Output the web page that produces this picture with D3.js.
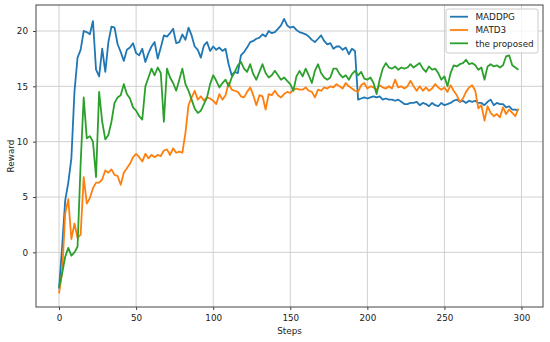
<!DOCTYPE html>
<html>
<head>
<meta charset="utf-8">
<script src="https://cdn.jsdelivr.net/npm/d3@7"></script>
<style>
    body { margin: 0; background: #fff; }
    #chart { width: 550px; height: 342px; }
    text { font-family: "DejaVu Sans", sans-serif; }
</style>
</head>
<body>
<div id="chart"></div>
<script>

// rewards every 2 steps
var steps = d3.range(0, 300, 2);

var maddpg = [
    -3.3, 0.5, 4.7, 6.3, 8.5, 14.5, 17.6, 18.3, 20.0, 19.9,
    19.7, 20.9, 16.5, 15.9, 18.4, 16.3, 19.0, 20.4, 20.3, 18.8,
    18.1, 17.3, 18.3, 18.5, 18.9, 18.0, 17.8, 18.4, 17.2, 18.0,
    18.6, 19.0, 17.5, 18.5, 19.6, 19.5, 19.8, 20.2, 18.9, 19.0,
    19.7, 19.2, 20.3, 19.6, 18.6, 18.3, 17.6, 18.7, 19.0, 18.2,
    18.6, 18.3, 18.5, 18.2, 18.4, 17.0, 16.0, 16.3, 16.2, 17.8,
    18.1, 18.5, 19.0, 19.1, 19.3, 19.4, 19.7, 19.5, 20.0, 19.8,
    19.9, 20.2, 20.5, 21.1, 20.5, 20.3, 20.4, 20.1, 19.9, 19.8,
    19.7, 19.5, 19.2, 19.0, 19.3, 19.6, 19.1, 18.8, 18.9, 18.4,
    18.6, 18.6, 18.3, 18.5, 17.9, 18.4, 18.2, 13.8, 13.9, 14.0,
    13.9, 14.0, 14.1, 14.0, 14.1, 13.8, 13.9, 13.8, 13.8, 13.7,
    13.8, 13.6, 13.4, 13.4, 13.5, 13.5, 13.6, 13.3, 13.5, 13.4,
    13.2, 13.5, 13.3, 13.2, 13.5, 13.3, 13.4, 13.5, 13.7, 13.8,
    13.6, 13.7, 13.5, 13.7, 13.6, 13.7, 13.5, 13.5, 13.3, 13.6,
    13.8, 13.3, 13.5, 13.4, 13.4, 13.1, 13.2, 12.9, 12.9, 12.8
];

var matd3 = [
    -3.7, -1.8, 3.5, 4.8, 1.2, 2.6, 1.3, 1.6, 6.8, 4.4,
    4.9, 5.8, 6.3, 6.3, 6.6, 7.4, 7.2, 7.5, 7.0, 6.9,
    6.1, 7.2, 7.6, 8.0, 8.6, 8.9, 8.6, 8.2, 8.9, 8.5,
    8.8, 8.6, 8.8, 8.7, 9.2, 9.3, 8.8, 9.4, 9.0, 9.1,
    9.0, 10.8, 13.3, 14.0, 14.6, 13.8, 14.1, 13.7, 14.0, 13.9,
    13.7, 13.4, 14.3, 13.8, 14.2, 15.3, 14.7, 14.6, 14.5, 14.1,
    14.0, 14.5, 14.9, 14.2, 13.3, 14.2, 14.1, 12.9, 14.3, 14.2,
    14.6, 14.2, 14.0, 14.3, 14.5, 14.4, 14.7, 14.8, 14.7, 14.7,
    14.9, 14.6, 14.5, 14.0, 14.7, 14.6, 14.9, 14.8, 15.0, 14.9,
    15.2, 15.0, 14.8, 15.3, 15.0, 14.8, 14.6, 14.5, 15.1, 15.3,
    14.8, 15.0, 14.9, 14.7, 15.1, 14.9, 14.8, 15.0, 14.8, 15.6,
    14.9, 15.0, 14.8, 15.0, 15.5, 15.0, 14.6, 15.0, 14.6, 14.9,
    14.6, 14.8, 15.2, 14.9, 14.7, 14.9, 14.5, 15.1, 14.6, 14.2,
    13.6, 13.9, 14.5, 14.9, 15.1, 14.6, 13.0, 13.3, 11.9, 13.2,
    12.6, 12.3, 12.5, 12.2, 13.1, 12.5, 12.9, 12.6, 12.3, 13.0
];

var proposed = [
    -3.2, -1.9, -0.4, 0.4, -0.3, 0.0, 0.5, 8.0, 14.0, 10.3,
    10.5, 10.0, 6.8, 14.5, 11.8, 10.2, 10.6, 11.8, 13.5, 14.0,
    14.2, 15.2, 14.3, 13.9, 13.1, 12.8, 12.3, 12.0, 15.0, 15.8,
    16.6, 16.0, 16.7, 16.2, 11.8, 16.6, 15.8, 15.3, 14.6, 15.6,
    16.6, 15.2, 14.6, 13.8, 13.0, 12.6, 12.8, 13.4, 14.0, 15.2,
    16.0, 15.5, 14.9, 15.3, 15.6, 15.0, 15.8, 16.3, 16.9, 17.2,
    16.6, 16.3, 17.0, 16.1, 15.6, 16.3, 17.0, 16.2, 15.8, 16.0,
    16.4, 16.0, 15.6, 15.8, 15.5, 15.2, 14.6, 15.9, 16.4, 15.9,
    16.6, 16.0, 15.3, 16.4, 17.0, 16.2, 15.8, 15.6, 15.8, 16.6,
    16.6, 16.1, 15.8, 16.0, 15.6, 16.1, 16.4, 16.0, 16.3, 15.7,
    15.6, 15.8, 15.3, 14.3, 15.6, 16.6, 17.1, 16.7, 16.6, 16.8,
    16.5, 16.7, 16.6, 16.7, 17.0, 16.7, 16.9, 17.1, 16.6, 16.3,
    16.8, 16.5, 16.6, 16.2, 15.6, 15.9, 15.0, 16.2, 16.9, 16.8,
    17.0, 17.1, 17.4, 17.0, 17.1, 16.9, 16.5, 16.7, 15.6, 16.8,
    17.0, 16.8, 16.9, 16.7, 16.9, 17.7, 17.8, 16.9, 16.7, 16.5
];

var seriesNames = ["MADDPG", "MATD3", "the proposed"];
var seriesColors = ["#1f77b4", "#ff7f0e", "#2ca02c"];
var xTicks = [0, 50, 100, 150, 200, 250, 300];
var yTicks = [0, 5, 10, 15, 20];

var allSeries = [maddpg, matd3, proposed];

var width = 550;
var height = 342;
var margin = { top: 5, right: 7, bottom: 35, left: 36 };

var svg = d3.select("#chart")
    .append("svg")
    .attr("width", width)
    .attr("height", height);

var xScale = d3.scaleLinear()
    .domain([-14.95, 313.95])
    .range([margin.left, width - margin.right]);

var yScale = d3.scaleLinear()
    .domain([-4.94, 22.35])
    .range([height - margin.bottom, margin.top]);

// grid
svg.selectAll(".xgrid")
    .data(xTicks)
    .enter()
    .append("line")
        .attr("x1", function(d) { return xScale(d); })
        .attr("x2", function(d) { return xScale(d); })
        .attr("y1", margin.top)
        .attr("y2", height - margin.bottom)
        .attr("stroke", "#d0d0d0")
        .attr("stroke-width", 1);

svg.selectAll(".ygrid")
    .data(yTicks)
    .enter()
    .append("line")
        .attr("x1", margin.left)
        .attr("x2", width - margin.right)
        .attr("y1", function(d) { return yScale(d); })
        .attr("y2", function(d) { return yScale(d); })
        .attr("stroke", "#d0d0d0")
        .attr("stroke-width", 1);

// lines
var line = d3.line()
    .x(function(d, i) { return xScale(steps[i]); })
    .y(function(d) { return yScale(d); });

svg.selectAll(".series")
    .data(allSeries)
    .enter()
    .append("path")
        .attr("class", "series")
        .attr("d", line)
        .attr("fill", "none")
        .attr("stroke", function(d, i) { return seriesColors[i]; })
        .attr("stroke-width", 1.8)
        .attr("stroke-linejoin", "round");

// axes
var xAxis = svg.append("g")
    .attr("transform", "translate(0," + (height - margin.bottom) + ")")
    .call(d3.axisBottom(xScale).tickValues(xTicks).tickSize(3).tickPadding(5));

var yAxis = svg.append("g")
    .attr("transform", "translate(" + margin.left + ",0)")
    .call(d3.axisLeft(yScale).tickValues(yTicks).tickSize(3).tickPadding(5));

[xAxis, yAxis].forEach(function(ax) {
    ax.select(".domain").remove();
    ax.selectAll("line").attr("stroke", "#444");
    ax.selectAll("text")
        .attr("fill", "#222")
        .style("font-size", "8.8px")
        .style("font-family", "DejaVu Sans");
});

// frame
svg.append("rect")
    .attr("x", margin.left)
    .attr("y", margin.top)
    .attr("width", width - margin.left - margin.right)
    .attr("height", height - margin.top - margin.bottom)
    .attr("fill", "none")
    .attr("stroke", "#444")
    .attr("stroke-width", 1);

svg.append("text")
    .attr("x", (margin.left + width - margin.right) / 2)
    .attr("y", 334)
    .attr("text-anchor", "middle")
    .attr("fill", "#222")
    .style("font-size", "8.8px")
    .text("Steps");

svg.append("text")
    .attr("transform", "translate(13.5," + ((margin.top + height - margin.bottom) / 2) + ") rotate(-90)")
    .attr("text-anchor", "middle")
    .attr("fill", "#222")
    .style("font-size", "8.8px")
    .text("Reward");

// legend
var legend = svg.append("g")
    .attr("transform", "translate(446,9)");

legend.append("rect")
    .attr("width", 92)
    .attr("height", 44)
    .attr("rx", 2)
    .attr("fill", "#fff")
    .attr("fill-opacity", 0.8)
    .attr("stroke", "#cccccc");

var rows = legend.selectAll(".row")
    .data(seriesNames)
    .enter()
    .append("g")
        .attr("transform", function(d, i) { return "translate(0," + (7.7 + i * 13.3) + ")"; });

rows.append("line")
    .attr("x1", 4)
    .attr("x2", 22)
    .attr("stroke", function(d, i) { return seriesColors[i]; })
    .attr("stroke-width", 1.8);

rows.append("text")
    .attr("x", 29.5)
    .attr("y", 3.2)
    .attr("fill", "#222")
    .style("font-size", "8.8px")
    .text(function(d) { return d; });

</script>
</body>
</html>
